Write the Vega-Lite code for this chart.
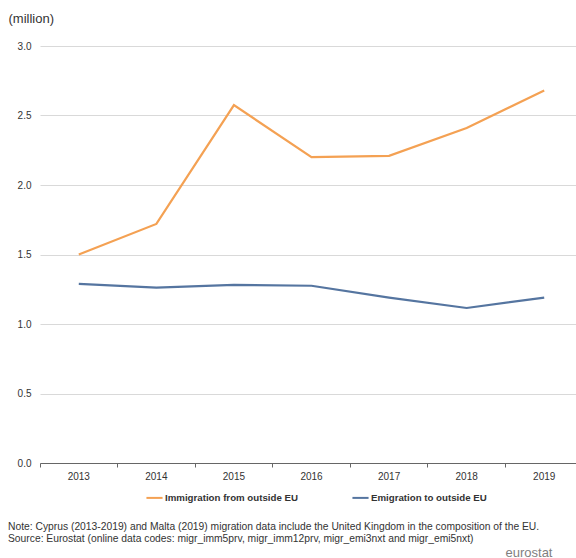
{
  "$schema": "https://vega.github.io/schema/vega-lite/v6.json",
  "width": 536,
  "height": 417,
  "autosize": {"type": "none"},
  "padding": {"left": 40, "top": 46, "right": 0, "bottom": 95},
  "background": "white",
  "config": {
    "font": "Liberation Sans",
    "view": {"stroke": null}
  },
  "title": {
    "text": "Note: Cyprus (2013-2019) and Malta (2019) migration data include the United Kingdom in the composition of the EU.",
    "subtitle": "Source: Eurostat (online data codes: migr_imm5prv, migr_imm12prv, migr_emi3nxt and migr_emi5nxt)",
    "orient": "bottom",
    "anchor": "start",
    "frame": "group",
    "dx": -32,
    "offset": -37,
    "fontSize": 10.3,
    "fontWeight": "normal",
    "color": "#333333",
    "subtitleFontSize": 10.3,
    "subtitleColor": "#333333",
    "subtitlePadding": 2
  },
  "data": {
    "values": [
      {"year": "2013", "series": "Immigration from outside EU", "value": 1.50},
      {"year": "2014", "series": "Immigration from outside EU", "value": 1.72},
      {"year": "2015", "series": "Immigration from outside EU", "value": 2.575},
      {"year": "2016", "series": "Immigration from outside EU", "value": 2.20},
      {"year": "2017", "series": "Immigration from outside EU", "value": 2.21},
      {"year": "2018", "series": "Immigration from outside EU", "value": 2.41},
      {"year": "2019", "series": "Immigration from outside EU", "value": 2.68},
      {"year": "2013", "series": "Emigration to outside EU", "value": 1.288},
      {"year": "2014", "series": "Emigration to outside EU", "value": 1.262},
      {"year": "2015", "series": "Emigration to outside EU", "value": 1.282},
      {"year": "2016", "series": "Emigration to outside EU", "value": 1.275},
      {"year": "2017", "series": "Emigration to outside EU", "value": 1.19},
      {"year": "2018", "series": "Emigration to outside EU", "value": 1.115},
      {"year": "2019", "series": "Emigration to outside EU", "value": 1.19}
    ]
  },
  "mark": {"type": "line", "strokeWidth": 2.2},
  "encoding": {
    "x": {
      "field": "year",
      "type": "ordinal",
      "bandPosition": 0.5,
      "scale": {"type": "band", "paddingInner": 0, "paddingOuter": 0, "range": [0, 543]},
      "axis": {
        "title": "eurostat",
        "titleFontSize": 13,
        "titleColor": "#7f7f7f",
        "titleFontWeight": "normal",
        "titleX": 465,
        "titleY": 93,
        "titleAlign": "left",
        "titleBaseline": "alphabetic",
        "bandPosition": 0,
        "labelAngle": 0,
        "labelFontSize": 10,
        "labelColor": "#333333",
        "labelPadding": 4,
        "domainColor": "#666666",
        "tickColor": "#666666",
        "tickSize": 4,
        "grid": false
      }
    },
    "y": {
      "field": "value",
      "type": "quantitative",
      "scale": {"domain": [0, 3]},
      "axis": {
        "title": "(million)",
        "titleAngle": 0,
        "titleAlign": "left",
        "titleBaseline": "middle",
        "titleX": -32,
        "titleY": -28,
        "titleFontSize": 13,
        "titleFontWeight": "normal",
        "titleColor": "#333333",
        "values": [0, 0.5, 1, 1.5, 2, 2.5, 3],
        "format": ".1f",
        "labelFontSize": 10,
        "labelColor": "#333333",
        "labelPadding": 9,
        "domain": false,
        "ticks": false,
        "gridColor": "#d9d9d9",
        "gridWidth": 1
      }
    },
    "color": {
      "field": "series",
      "type": "nominal",
      "sort": ["Immigration from outside EU", "Emigration to outside EU"],
      "scale": {
        "domain": ["Immigration from outside EU", "Emigration to outside EU"],
        "range": ["#f4a153", "#5575a0"]
      },
      "legend": {
        "title": null,
        "orient": "none",
        "direction": "horizontal",
        "legendX": 105,
        "legendY": 442,
        "symbolType": "stroke",
        "symbolSize": 260,
        "symbolStrokeWidth": 2,
        "labelFontSize": 9.7,
        "labelFontWeight": "bold",
        "labelColor": "#333333",
        "labelOffset": 1,
        "columnPadding": 50
      }
    }
  }
}
